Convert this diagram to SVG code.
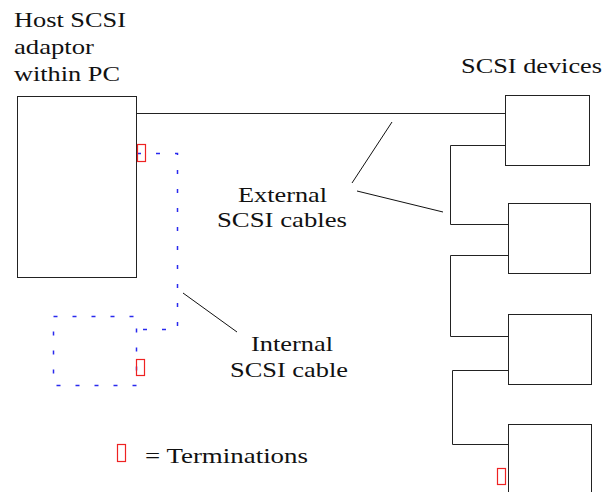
<svg xmlns="http://www.w3.org/2000/svg" width="603" height="492" viewBox="0 0 603 492">
  <style>
    .box { fill: #ffffff; stroke: #222222; stroke-width: 1; }
    .wire { fill: none; stroke: #222222; stroke-width: 1; }
    .lead { fill: none; stroke: #111111; stroke-width: 1; }
    .internal { fill: none; stroke: #2a2aee; stroke-width: 1.5; stroke-dasharray: 4 15; }
    .term { fill: none; stroke: #ee2222; stroke-width: 1.2; }
    .label { font-family: "Liberation Serif", "Times New Roman", Times, serif; font-size: 22px; fill: #111111; }
  </style>
  <rect width="603" height="492" fill="#ffffff"/>

  <g id="connectors">
    <!-- external chain -->
    <path class="wire" d="M134 113.5 H510"/>
    <path class="wire" d="M505 145.5 H450.5 V224.5 H508"/>
    <path class="wire" d="M508 255.5 H450.5 V336.5 H511"/>
    <path class="wire" d="M508 370.5 H452.5 V444.5 H508"/>
    <!-- internal ribbon -->
    <path class="internal" d="M137 153.5 H177.5 V329.5 H137"/>
    <!-- label leaders -->
    <path class="lead" d="M352 183 L392 122"/>
    <path class="lead" d="M357 191 L443 212"/>
    <path class="lead" d="M183 293 L237 332"/>
  </g>

  <g id="host">
    <rect class="box" x="17.5" y="96.5" width="119" height="181"/>
    <text class="label" x="14" y="27" textLength="112" lengthAdjust="spacingAndGlyphs">Host SCSI</text>
    <text class="label" x="14" y="54" textLength="80" lengthAdjust="spacingAndGlyphs">adaptor</text>
    <text class="label" x="14" y="81" textLength="106" lengthAdjust="spacingAndGlyphs">within PC</text>
  </g>

  <g id="internal-device">
    <rect class="internal" x="53.5" y="316.5" width="83" height="69"/>
  </g>

  <g id="device-1"><rect class="box" x="505.5" y="95.5" width="84" height="70"/></g>
  <g id="device-2"><rect class="box" x="508.5" y="203.5" width="82" height="70"/></g>
  <g id="device-3"><rect class="box" x="508.5" y="314.5" width="83" height="70"/></g>
  <g id="device-4"><rect class="box" x="508.5" y="424.5" width="83" height="80"/></g>

  <g id="devices-label">
    <text class="label" x="461" y="73" textLength="141" lengthAdjust="spacingAndGlyphs">SCSI devices</text>
  </g>

  <g id="external-label">
    <text class="label" x="238" y="202" textLength="89" lengthAdjust="spacingAndGlyphs">External</text>
    <text class="label" x="217" y="227" textLength="130" lengthAdjust="spacingAndGlyphs">SCSI cables</text>
  </g>

  <g id="internal-label">
    <text class="label" x="251" y="351" textLength="82" lengthAdjust="spacingAndGlyphs">Internal</text>
    <text class="label" x="230" y="377" textLength="118" lengthAdjust="spacingAndGlyphs">SCSI cable</text>
  </g>

  <g id="terminations">
    <rect class="term" x="137.5" y="144.5" width="8" height="17"/>
    <rect class="term" x="136.5" y="359.5" width="8" height="16"/>
    <rect class="term" x="497.5" y="468.5" width="8" height="16"/>
  </g>

  <g id="legend">
    <rect class="term" x="117.5" y="444.5" width="8" height="17"/>
    <text class="label" x="145" y="463" textLength="163" lengthAdjust="spacingAndGlyphs">= Terminations</text>
  </g>
</svg>
